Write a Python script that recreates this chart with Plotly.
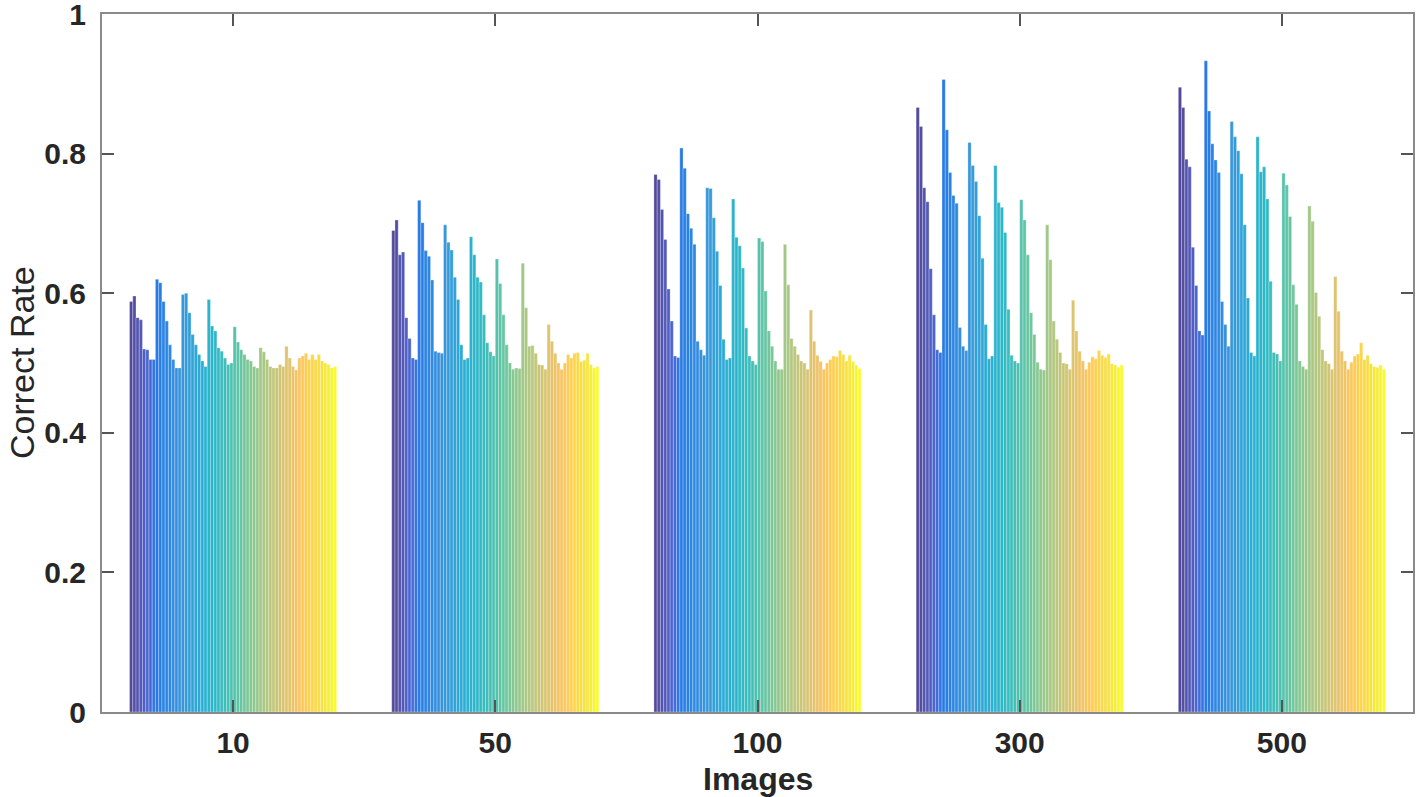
import plotly.graph_objects as go

# Categories (number of images)
categories = ["10", "50", "100", "300", "500"]
x_positions = [1, 2, 3, 4, 5]

# Correct rate per bar (64 bars per group)
rate_10 = [
    0.588, 0.596, 0.565, 0.562, 0.520, 0.519, 0.505, 0.505,
    0.620, 0.615, 0.588, 0.560, 0.526, 0.505, 0.493, 0.493,
    0.598, 0.600, 0.572, 0.541, 0.526, 0.512, 0.503, 0.495,
    0.591, 0.553, 0.546, 0.522, 0.517, 0.507, 0.498, 0.500,
    0.552, 0.530, 0.519, 0.512, 0.505, 0.503, 0.495, 0.493,
    0.522, 0.516, 0.505, 0.495, 0.493, 0.493, 0.498, 0.495,
    0.524, 0.507, 0.495, 0.490, 0.507, 0.510, 0.514, 0.505,
    0.512, 0.505, 0.512, 0.503, 0.500, 0.498, 0.493, 0.495,
]
rate_50 = [
    0.690, 0.705, 0.655, 0.659, 0.565, 0.535, 0.507, 0.505,
    0.733, 0.701, 0.661, 0.653, 0.619, 0.517, 0.515, 0.514,
    0.698, 0.673, 0.662, 0.623, 0.591, 0.526, 0.505, 0.507,
    0.681, 0.655, 0.623, 0.616, 0.569, 0.529, 0.516, 0.510,
    0.649, 0.614, 0.569, 0.526, 0.500, 0.491, 0.493, 0.492,
    0.643, 0.579, 0.524, 0.525, 0.514, 0.498, 0.497, 0.491,
    0.555, 0.531, 0.514, 0.500, 0.491, 0.500, 0.512, 0.507,
    0.514, 0.515, 0.502, 0.504, 0.514, 0.498, 0.493, 0.495,
]
rate_100 = [
    0.770, 0.763, 0.720, 0.677, 0.606, 0.560, 0.510, 0.508,
    0.808, 0.779, 0.714, 0.693, 0.670, 0.531, 0.519, 0.511,
    0.751, 0.750, 0.708, 0.660, 0.611, 0.534, 0.505, 0.507,
    0.735, 0.680, 0.668, 0.636, 0.550, 0.510, 0.503, 0.498,
    0.679, 0.674, 0.603, 0.546, 0.524, 0.503, 0.491, 0.491,
    0.670, 0.612, 0.535, 0.524, 0.512, 0.503, 0.500, 0.491,
    0.576, 0.531, 0.511, 0.502, 0.491, 0.500, 0.505, 0.510,
    0.509, 0.518, 0.512, 0.503, 0.511, 0.502, 0.497, 0.492,
]
rate_300 = [
    0.866, 0.839, 0.751, 0.731, 0.635, 0.569, 0.519, 0.515,
    0.906, 0.834, 0.773, 0.740, 0.729, 0.551, 0.524, 0.518,
    0.816, 0.783, 0.760, 0.711, 0.650, 0.555, 0.506, 0.510,
    0.783, 0.730, 0.723, 0.687, 0.577, 0.511, 0.503, 0.500,
    0.734, 0.705, 0.655, 0.572, 0.541, 0.501, 0.491, 0.490,
    0.698, 0.648, 0.560, 0.534, 0.515, 0.500, 0.499, 0.491,
    0.590, 0.546, 0.517, 0.503, 0.491, 0.501, 0.509, 0.506,
    0.518, 0.511, 0.508, 0.513, 0.499, 0.497, 0.494, 0.497,
]
rate_500 = [
    0.895, 0.866, 0.792, 0.781, 0.666, 0.611, 0.546, 0.540,
    0.933, 0.861, 0.814, 0.791, 0.773, 0.588, 0.555, 0.524,
    0.846, 0.824, 0.804, 0.771, 0.698, 0.593, 0.515, 0.510,
    0.824, 0.774, 0.781, 0.735, 0.617, 0.515, 0.513, 0.503,
    0.772, 0.755, 0.710, 0.612, 0.584, 0.503, 0.495, 0.491,
    0.725, 0.703, 0.601, 0.567, 0.519, 0.503, 0.499, 0.491,
    0.624, 0.574, 0.517, 0.503, 0.491, 0.501, 0.510, 0.513,
    0.529, 0.505, 0.511, 0.499, 0.495, 0.494, 0.497, 0.491,
]

y_ticks = [0, 0.2, 0.4, 0.6, 0.8, 1]
y_tick_labels = ["0", "0.2", "0.4", "0.6", "0.8", "1"]

# MATLAB parula colormap anchors
parula = [
    (0.2081, 0.1663, 0.5292), (0.2116, 0.1898, 0.5777), (0.2123, 0.2138, 0.6270),
    (0.2081, 0.2386, 0.6771), (0.1959, 0.2645, 0.7279), (0.1707, 0.2919, 0.7792),
    (0.1253, 0.3242, 0.8303), (0.0591, 0.3598, 0.8683), (0.0117, 0.3875, 0.8820),
    (0.0060, 0.4086, 0.8828), (0.0165, 0.4266, 0.8786), (0.0329, 0.4430, 0.8720),
    (0.0498, 0.4586, 0.8641), (0.0629, 0.4737, 0.8554), (0.0723, 0.4887, 0.8467),
    (0.0779, 0.5040, 0.8384), (0.0793, 0.5200, 0.8312), (0.0749, 0.5375, 0.8263),
    (0.0641, 0.5570, 0.8240), (0.0488, 0.5772, 0.8228), (0.0343, 0.5966, 0.8199),
    (0.0265, 0.6137, 0.8135), (0.0239, 0.6287, 0.8038), (0.0231, 0.6418, 0.7913),
    (0.0228, 0.6535, 0.7768), (0.0267, 0.6642, 0.7607), (0.0384, 0.6743, 0.7436),
    (0.0590, 0.6838, 0.7254), (0.0843, 0.6928, 0.7062), (0.1133, 0.7015, 0.6859),
    (0.1453, 0.7098, 0.6646), (0.1801, 0.7177, 0.6424), (0.2178, 0.7250, 0.6193),
    (0.2586, 0.7317, 0.5954), (0.3022, 0.7376, 0.5712), (0.3482, 0.7424, 0.5473),
    (0.3953, 0.7459, 0.5244), (0.4420, 0.7481, 0.5033), (0.4871, 0.7491, 0.4840),
    (0.5300, 0.7491, 0.4661), (0.5709, 0.7485, 0.4494), (0.6099, 0.7473, 0.4337),
    (0.6473, 0.7456, 0.4188), (0.6834, 0.7435, 0.4044), (0.7184, 0.7411, 0.3905),
    (0.7525, 0.7384, 0.3768), (0.7858, 0.7356, 0.3633), (0.8185, 0.7327, 0.3498),
    (0.8507, 0.7299, 0.3360), (0.8824, 0.7274, 0.3217), (0.9139, 0.7258, 0.3063),
    (0.9450, 0.7261, 0.2886), (0.9739, 0.7314, 0.2666), (0.9938, 0.7455, 0.2403),
    (0.9990, 0.7653, 0.2164), (0.9955, 0.7861, 0.1967), (0.9880, 0.8066, 0.1794),
    (0.9789, 0.8271, 0.1633), (0.9697, 0.8481, 0.1475), (0.9626, 0.8705, 0.1309),
    (0.9589, 0.8949, 0.1132), (0.9598, 0.9218, 0.0948), (0.9661, 0.9514, 0.0755),
    (0.9763, 0.9831, 0.0538),
]

groups = [rate_10, rate_50, rate_100, rate_300, rate_500]
n_bars = len(rate_10)


def color_at(i, n):
    t = i / (n - 1) * (len(parula) - 1)
    k = min(int(t), len(parula) - 2)
    f = t - k
    c = [parula[k][j] * (1 - f) + parula[k + 1][j] * f for j in range(3)]
    return "rgb(%d,%d,%d)" % tuple(int(round(v * 255)) for v in c)


fig = go.Figure()
for i in range(n_bars):
    fig.add_trace(go.Bar(
        x=x_positions,
        y=[g[i] for g in groups],
        marker=dict(color=color_at(i, n_bars), opacity=0.85,
                    line=dict(color="white", width=0.3)),
        showlegend=False,
        hoverinfo="y",
    ))

axis_color = "#8a8a8a"
tick_font = dict(family="Arial", size=30, color="#262626", weight="bold")
fig.update_layout(
    width=1418, height=797,
    margin=dict(l=102, r=5, t=14, b=85),
    paper_bgcolor="white", plot_bgcolor="white",
    barmode="group", bargap=0.21, bargroupgap=0.0,
    xaxis=dict(
        range=[0.5, 5.5], tickvals=x_positions, ticktext=categories,
        ticks="inside", ticklen=12, tickcolor="#555555", tickwidth=1.5,
        showline=True, linecolor=axis_color, linewidth=2, mirror="ticks",
        showgrid=False, zeroline=False, automargin=False,
        tickfont=tick_font, ticklabelstandoff=3, ticklabeloverflow="allow",
    ),
    yaxis=dict(
        range=[0, 1], tickvals=y_ticks, ticktext=y_tick_labels,
        ticks="inside", ticklen=12, tickcolor="#555555", tickwidth=1.5,
        showline=True, linecolor=axis_color, linewidth=2, mirror="ticks",
        showgrid=False, zeroline=False, automargin=False,
        tickfont=tick_font, ticklabelstandoff=8, ticklabeloverflow="allow",
    ),
    annotations=[
        dict(text="Images", xref="paper", yref="paper", x=0.5, y=-0.0955,
             xanchor="center", yanchor="middle", showarrow=False,
             font=dict(family="Arial", size=32, color="#262626", weight="bold")),
        dict(text="Correct Rate", xref="paper", yref="paper", x=-0.061, y=0.5,
             xanchor="center", yanchor="middle", textangle=-90, showarrow=False,
             font=dict(family="Arial", size=34, color="#262626")),
    ],
)

fig.write_html("out.html", config={"displayModeBar": False},
               post_script="document.body.style.margin='0';")
